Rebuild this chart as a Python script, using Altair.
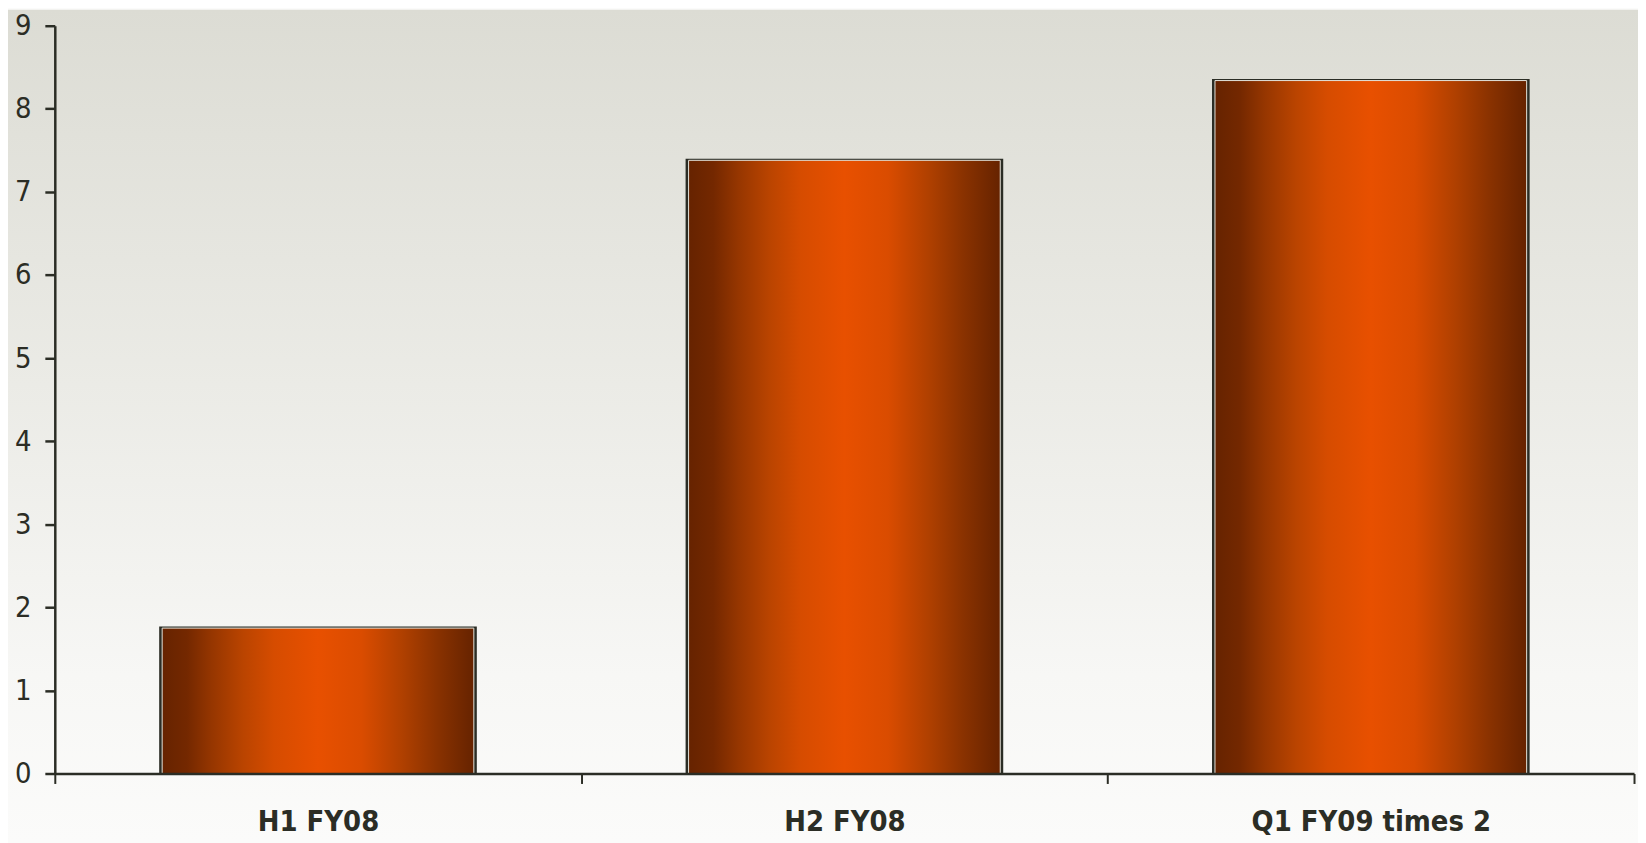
import altair as alt
import pandas as pd

categories = ["H1 FY08", "H2 FY08", "Q1 FY09 times 2"]
values = [1.75, 7.38, 8.34]

df = pd.DataFrame({"period": categories, "value": values})

W, H = 1586, 751
FONT = "Liberation Sans Narrow, DejaVu Sans Condensed, Arial Narrow, sans-serif"
INK = "#2b2d25"

bg = alt.Chart(alt.Data(values=[{"a": 1}])).mark_rect(
    color=alt.Gradient(
        gradient="linear", x1=0, y1=0, x2=0, y2=1,
        stops=[
            alt.GradientStop(offset=0, color="#dcdcd4"),
            alt.GradientStop(offset=0.45, color="#ebebe6"),
            alt.GradientStop(offset=0.8, color="#f7f7f5"),
            alt.GradientStop(offset=1, color="#fbfbfa"),
        ],
    )
).encode(
    x=alt.value(-47), x2=alt.value(W + 4),
    y=alt.value(-16), y2=alt.value(H + 68),
)

bar_grad = alt.Gradient(
    gradient="linear", x1=0, y1=0, x2=1, y2=0,
    stops=[
        alt.GradientStop(offset=0, color="#662300"),
        alt.GradientStop(offset=0.08, color="#742800"),
        alt.GradientStop(offset=0.16, color="#963600"),
        alt.GradientStop(offset=0.26, color="#ba4400"),
        alt.GradientStop(offset=0.36, color="#d64c00"),
        alt.GradientStop(offset=0.5, color="#e85000"),
        alt.GradientStop(offset=0.64, color="#da4c00"),
        alt.GradientStop(offset=0.77, color="#b04000"),
        alt.GradientStop(offset=0.88, color="#8a3200"),
        alt.GradientStop(offset=1, color="#662300"),
    ],
)

x_enc = alt.X(
    "period:N", sort=categories, title=None,
    scale=alt.Scale(paddingInner=0, paddingOuter=0),
    axis=alt.Axis(
        labelAngle=0, labelFont=FONT, labelFontSize=29, labelFontWeight="bold",
        labelColor=INK, labelPadding=24, labelLimit=0, tickSize=10, tickWidth=2,
        tickColor=INK, tickBand="extent", domainColor=INK, domainWidth=2.5, zindex=1,
    ),
)
y_enc = alt.Y(
    "value:Q", title=None,
    scale=alt.Scale(domain=[0, 9], nice=False),
    axis=alt.Axis(
        values=list(range(10)), grid=False, labelFont=FONT, labelFontSize=29,
        labelColor=INK, labelPadding=14, tickSize=10, tickWidth=2.5, tickColor=INK,
        domainColor=INK, domainWidth=2.5, zindex=1,
    ),
)

shadow = alt.Chart(df).mark_bar(
    size=316, color=INK, stroke=INK, strokeWidth=3,
).encode(x=x_enc, y=y_enc)

bars = alt.Chart(df).mark_bar(
    size=313, color=bar_grad, stroke="#e4e4dc", strokeWidth=1,
).encode(x=x_enc, y=y_enc)

chart = alt.layer(bg, shadow, bars).properties(
    width=W, height=H,
    autosize=alt.AutoSizeParams(type="none"),
    padding={"left": 47, "top": 16, "right": 4, "bottom": 68},
).configure_view(stroke=None).configure(background="#fbfbfa")

chart.save("out.html", embed_options={"renderer": "svg", "actions": False})
